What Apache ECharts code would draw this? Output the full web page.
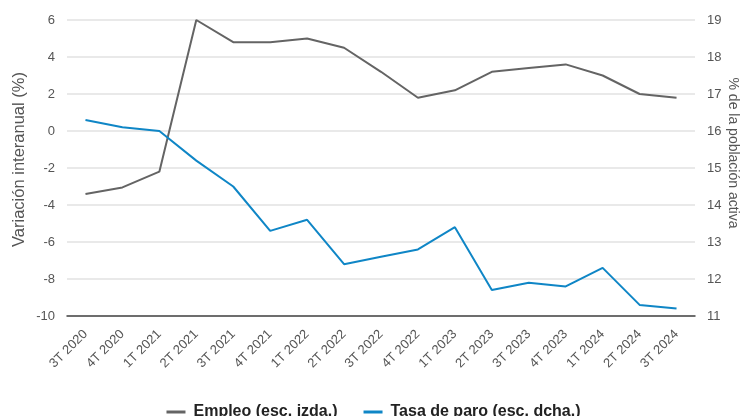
<!DOCTYPE html>
<html>
<head>
<meta charset="utf-8">
<script src="https://cdn.jsdelivr.net/npm/echarts@6/dist/echarts.min.js"></script>
<style>html,body{margin:0;padding:0;background:#fff}#c{width:747px;height:416px}</style>
</head>
<body>
<div id="c"></div>
<script>
var categories = ['3T 2020','4T 2020','1T 2021','2T 2021','3T 2021','4T 2021','1T 2022','2T 2022','3T 2022','4T 2022','1T 2023','2T 2023','3T 2023','4T 2023','1T 2024','2T 2024','3T 2024'];
var empleo = [-3.4, -3.05, -2.2, 6.0, 4.8, 4.8, 5.0, 4.5, 3.2, 1.8, 2.2, 3.2, 3.4, 3.6, 3.0, 2.0, 1.8];
var tasaParo = [16.3, 16.1, 16.0, 15.2, 14.5, 13.3, 13.6, 12.4, 12.6, 12.8, 13.4, 11.7, 11.9, 11.8, 12.3, 11.3, 11.2];
var leftName = 'Variación interanual (%)';
var rightName = '% de la población activa';

var chart = echarts.init(document.getElementById('c'));
var font = 'Liberation Sans, Arial, sans-serif';
chart.setOption({
  animation: false,
  textStyle: {fontFamily: font},
  grid: {left: 67, right: 52, top: 20, bottom: 100, containLabel: false, outerBoundsMode: 'none'},
  legend: {
    top: 399, left: 'center',
    itemWidth: 19, itemHeight: 3, itemGap: 26,
    icon: 'rect',
    textStyle: {fontFamily: font, fontSize: 16, fontWeight: 'bold', color: '#222', padding: [0, 0, 0, 3]},
    data: ['Empleo (esc. izda.)', 'Tasa de paro (esc. dcha.)']
  },
  xAxis: {
    type: 'category', data: categories, boundaryGap: true,
    axisLine: {onZero: false, lineStyle: {color: '#444', width: 1.5}},
    axisTick: {show: false},
    axisLabel: {interval: 0, rotate: 45, color: '#555', fontSize: 13, margin: 16, fontFamily: font}
  },
  yAxis: [{
    type: 'value', min: -10, max: 6, interval: 2,
    name: leftName, nameLocation: 'middle', nameGap: 39, nameRotate: 90, nameMoveOverlap: false,
    nameTextStyle: {color: '#555', fontSize: 16.5, fontFamily: font, padding: [0, 0, 0, 17]},
    axisLine: {show: false}, axisTick: {show: false},
    axisLabel: {color: '#555', fontSize: 13, margin: 12, fontFamily: font},
    splitLine: {lineStyle: {color: '#e2e2e2', width: 1.5}}
  }, {
    type: 'value', min: 11, max: 19, interval: 1,
    name: rightName, nameLocation: 'middle', nameGap: 31, nameRotate: -90, nameMoveOverlap: false,
    nameTextStyle: {color: '#555', fontSize: 14, fontFamily: font, padding: [0, 30, 0, 0]},
    axisLine: {show: false}, axisTick: {show: false},
    axisLabel: {color: '#555', fontSize: 13, margin: 12, fontFamily: font},
    splitLine: {show: false}
  }],
  series: [{
    name: 'Empleo (esc. izda.)', type: 'line', yAxisIndex: 0, data: empleo,
    showSymbol: false, symbol: 'none',
    lineStyle: {color: '#646464', width: 2}, itemStyle: {color: '#646464'}
  }, {
    name: 'Tasa de paro (esc. dcha.)', type: 'line', yAxisIndex: 1, data: tasaParo,
    showSymbol: false, symbol: 'none',
    lineStyle: {color: '#0f86c6', width: 2}, itemStyle: {color: '#0f86c6'}
  }]
});
</script>
</body>
</html>
